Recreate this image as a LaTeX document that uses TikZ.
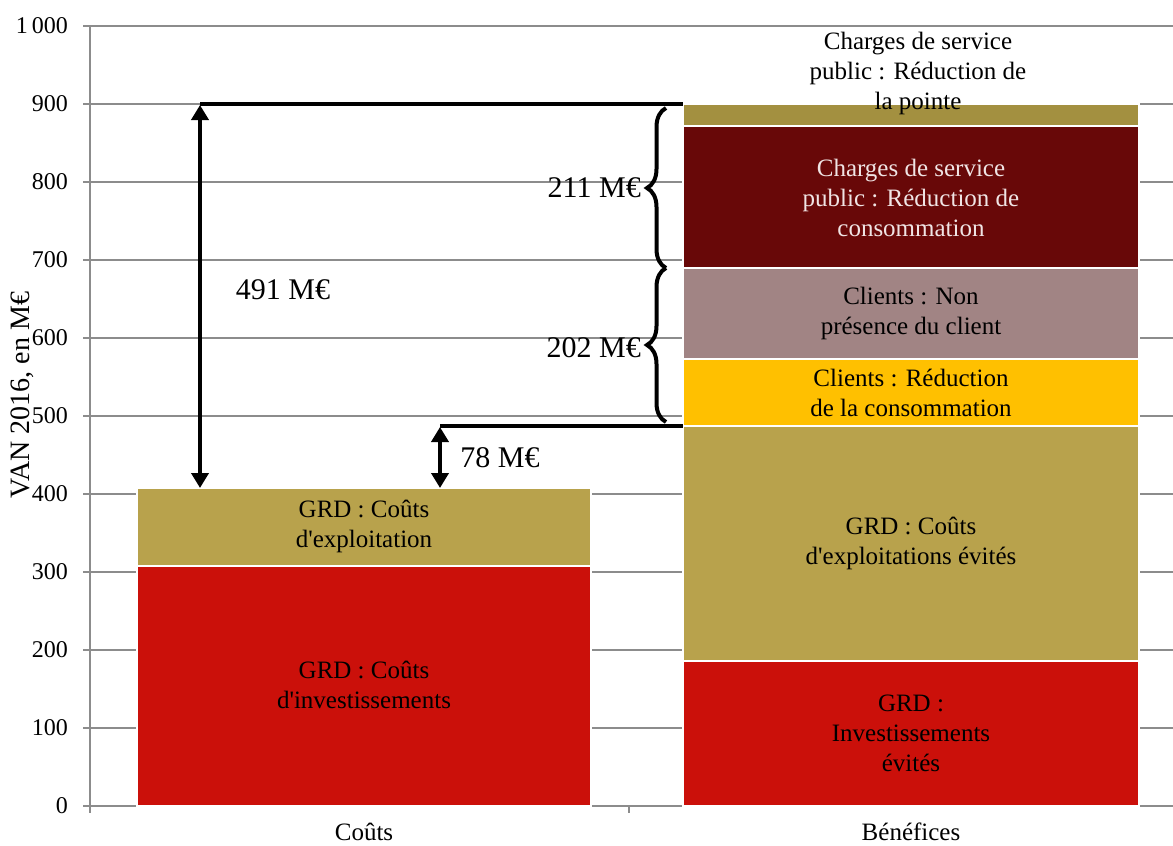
\documentclass[tikz,border=0pt]{standalone}
\usepackage{fontspec}
\setmainfont{Liberation Serif}
\usetikzlibrary{arrows.meta,decorations.pathreplacing}
\definecolor{cred}{RGB}{203,16,10}
\definecolor{ctan}{RGB}{184,162,76}
\definecolor{colive}{RGB}{163,144,64}
\definecolor{cdark}{RGB}{104,8,8}
\definecolor{cmauve}{RGB}{161,132,132}
\definecolor{cyellow}{RGB}{255,192,0}
\definecolor{cgrid}{RGB}{140,140,140}
\definecolor{clight}{RGB}{240,228,228}
\tikzset{
  seg/.style={draw=white, line width=1.5pt},
  grid line/.style={draw=cgrid, line width=1.5pt},
  tick label/.style={anchor=east, font=\fontsize{24}{28}\selectfont, inner sep=0pt},
  bar label/.style={align=center, font=\fontsize{25}{30}\selectfont, inner sep=0pt},
  cat label/.style={font=\fontsize{25}{28}\selectfont, inner sep=0pt},
  dim label/.style={font=\fontsize{30}{32}\selectfont, inner sep=0pt},
  thick line/.style={draw=black, line width=4pt},
  dbl arrow/.style={draw=black, line width=4pt, {Triangle[width=17pt,length=15pt]}-{Triangle[width=17pt,length=15pt]}},
  brace line/.style={draw=black, line width=4pt, decorate, decoration={brace, amplitude=19pt, aspect=0.5}},
}
\begin{document}
\begin{tikzpicture}[x=1pt, y=-1pt]
\useasboundingbox (0,0) rectangle (1173,846);
\fill[white] (0,0) rectangle (1173,846);
% grid lines and y ticks
\foreach \v/\t in {0/0,100/100,200/200,300/300,400/400,500/500,600/600,700/700,800/800,900/900,1000/{1\,000}}{
  \pgfmathsetmacro{\py}{806-0.78*\v}
  \draw[grid line] (83,\py) -- (1173,\py);
  \node[tick label] (t\v) at (68,\py) {\t};
}
\draw[grid line] (90,26) -- (90,813);
\draw[grid line] (629,806) -- (629,813);
% Couts bar
\path[seg, fill=cred] (137,806) rectangle (591,566);
\path[seg, fill=ctan] (137,566) rectangle (591,488);
% Benefices bar
\path[seg, fill=cred] (683,806) rectangle (1139,661);
\path[seg, fill=ctan] (683,661) rectangle (1139,426);
\path[seg, fill=cyellow] (683,426) rectangle (1139,359);
\path[seg, fill=cmauve] (683,359) rectangle (1139,268);
\path[seg, fill=cdark] (683,268) rectangle (1139,126);
\path[seg, fill=colive] (683,126) rectangle (1139,104);
% bar labels
\node[bar label] (c1) at (364,685) {GRD : Coûts\\d\textquotesingle investissements};
\node[bar label] (c2) at (364,526) {GRD : Coûts\\d\textquotesingle exploitation};
\node[bar label] (b1) at (911,733) {GRD :\\Investissements\\évités};
\node[bar label] (b2) at (911,543) {GRD : Coûts\\d\textquotesingle exploitations évités};
\node[bar label] (b3) at (911,393) {Clients : Réduction\\de la consommation};
\node[bar label] (b4) at (911,313) {Clients : Non\\présence du client};
\node[bar label, text=clight] (b5) at (911,198) {Charges de service\\public : Réduction de\\consommation};
\node[bar label] (b6) at (918,73) {Charges de service\\public : Réduction de\\la pointe};
% category labels
\node[cat label] (k1) at (364,832) {Coûts};
\node[cat label] (k2) at (911,832) {Bénéfices};
% y axis title
\node[font=\fontsize{28}{30}\selectfont, inner sep=0pt, rotate=90] (yt) at (22,395) {VAN 2016, en M€};
% dimension lines
\coordinate (top) at (200,104);
\coordinate (topR) at (683,104);
\coordinate (cTop) at (200,488);
\coordinate (mid) at (440,426);
\coordinate (midR) at (683,426);
\coordinate (cTop2) at (440,488);
\draw[thick line] (top) -- (topR);
\draw[thick line] (mid) -- (midR);
\draw[dbl arrow] ([yshift=-1pt]top) -- (cTop);
\draw[dbl arrow] ([yshift=-1pt]mid) -- (cTop2);
\node[dim label] (d491) at (283,290) {491 M€};
\node[dim label] (d78) at (500,458) {78 M€};
% braces
\coordinate (br1) at (666,268);
\coordinate (br2) at (666,108);
\coordinate (br3) at (666,422);
\draw[brace line] (br1) -- (br2);
\draw[brace line] (br3) -- (br1);
\node[dim label, anchor=east] (d211) at (641,188) {211 M€};
\node[dim label, anchor=east] (d202) at (641,348) {202 M€};
\end{tikzpicture}
\end{document}
